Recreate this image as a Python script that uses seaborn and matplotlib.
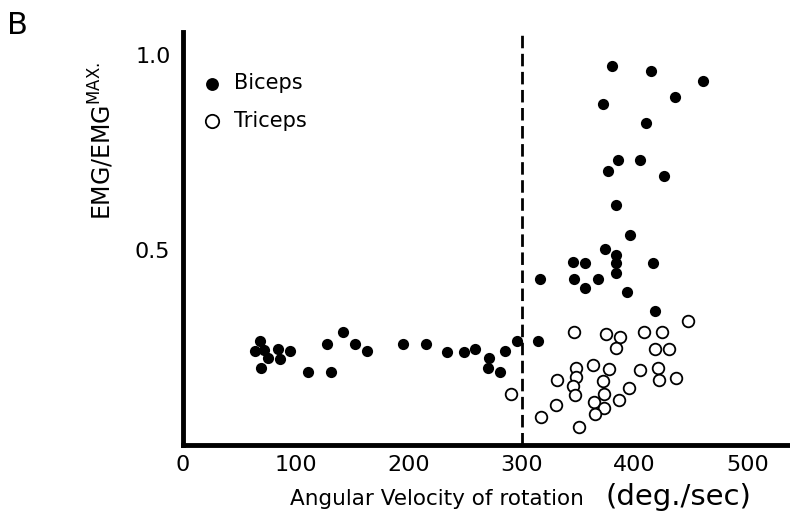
import numpy as np
import pandas as pd
import matplotlib
matplotlib.use("Agg")
import matplotlib.pyplot as plt
import seaborn as sns

# ---- data ----
biceps_x = [68, 64, 72, 75, 69, 84.5, 86, 94.5, 111, 131, 128, 141.5, 152, 163,
            195, 215, 234, 248.5, 259, 271, 270, 281, 285, 295.5, 314.5,
            316, 346.5, 356.5, 368, 345.6, 356, 384, 384, 384, 393, 416, 418,
            380, 415, 461, 436, 372, 410, 385, 405, 376.5, 426, 384, 396, 374]
biceps_y = [0.267, 0.242, 0.244, 0.222, 0.197, 0.246, 0.220, 0.242, 0.188, 0.188, 0.259, 0.289, 0.259, 0.242,
            0.259, 0.259, 0.239, 0.239, 0.245, 0.222, 0.197, 0.186, 0.242, 0.267, 0.267,
            0.426, 0.427, 0.403, 0.427, 0.470, 0.466, 0.487, 0.467, 0.442, 0.392, 0.467, 0.344,
            0.973, 0.959, 0.933, 0.893, 0.876, 0.826, 0.731, 0.731, 0.703, 0.690, 0.615, 0.540, 0.503]

triceps_x = [290.5, 346.5, 374.7, 387, 384, 347.7, 348, 345.6, 347, 331.6, 363, 377, 371.7,
             372.6, 364.4, 372.6, 364.7, 385.8, 395, 330, 317, 351, 447.5, 408.5, 424, 418,
             430.7, 405, 421, 421.6, 437]
triceps_y = [0.130, 0.289, 0.286, 0.278, 0.248, 0.197, 0.175, 0.151, 0.128, 0.168, 0.205, 0.194, 0.165,
             0.132, 0.111, 0.094, 0.079, 0.115, 0.145, 0.103, 0.071, 0.047, 0.318, 0.291, 0.291, 0.245,
             0.246, 0.192, 0.197, 0.167, 0.171]

x_ticks = [0, 100, 200, 300, 400, 500]
x_ticklabels = ["0", "100", "200", "300", "400", "500"]
y_ticks = [0.5, 1.0]
y_ticklabels = ["0.5", "1.0"]
threshold = 300

sns.set_theme(style="white")
plt.rcParams["font.family"] = ["DejaVu Sans"]
plt.rcParams["mathtext.fontset"] = "dejavusans"
plt.rcParams["text.color"] = "black"
plt.rcParams["axes.labelcolor"] = "black"
plt.rcParams["xtick.color"] = "black"
plt.rcParams["ytick.color"] = "black"

fig = plt.figure(figsize=(7.9, 5.21), dpi=100)
ax = fig.add_axes([0.2316, 0.1459, 0.766, 0.793])

dfb = pd.DataFrame({"x": biceps_x, "y": biceps_y})
dft = pd.DataFrame({"x": triceps_x, "y": triceps_y})

sns.scatterplot(data=dfb, x="x", y="y", ax=ax, color="black", s=65,
                linewidth=0, label="Biceps", zorder=3)
sns.scatterplot(data=dft, x="x", y="y", ax=ax, color="black", facecolor="white",
                edgecolor="black", s=70, linewidth=1.3, label="Triceps", zorder=3)

ax.axvline(threshold, ymin=0, ymax=1, color="black", lw=2.0,
           linestyle=(0, (4.5, 2)), zorder=2)

ax.set_xlim(0, 536)
ax.set_ylim(0, 1.06)

for side in ["top", "right"]:
    ax.spines[side].set_visible(False)
for side in ["left", "bottom"]:
    ax.spines[side].set_linewidth(3.5)
    ax.spines[side].set_color("black")

ax.set_xticks(x_ticks)
ax.set_xticklabels(x_ticklabels)
ax.set_yticks(y_ticks)
ax.set_yticklabels(y_ticklabels)
ax.tick_params(axis="both", direction="in", length=9, width=1.3, colors="black",
               labelsize=16, labelcolor="black")
ax.tick_params(axis="x", pad=7)
ax.tick_params(axis="y", pad=9)
ax.set_xlabel("")
ax.set_ylabel("EMG/EMG$^{\\mathrm{MAX.}}$", fontsize=17, color="black")
ax.yaxis.set_label_coords(-0.11, 0.735)

fig.text(0.367, 0.03, "Angular Velocity of rotation", fontsize=15.5, ha="left",
         va="baseline", color="black")
fig.text(0.766, 0.03, "(deg./sec)", fontsize=21, ha="left", va="baseline", color="black")
fig.text(0.009, 0.935, "B", fontsize=22, ha="left", va="baseline", color="black")

leg = ax.legend(loc="upper left", bbox_to_anchor=(0.0, 0.92), frameon=False,
                fontsize=15, handletextpad=0.05, labelspacing=0.85, markerscale=1.15,
                borderaxespad=0)
for t in leg.get_texts():
    t.set_color("black")

fig.savefig("out.png", dpi=100)
